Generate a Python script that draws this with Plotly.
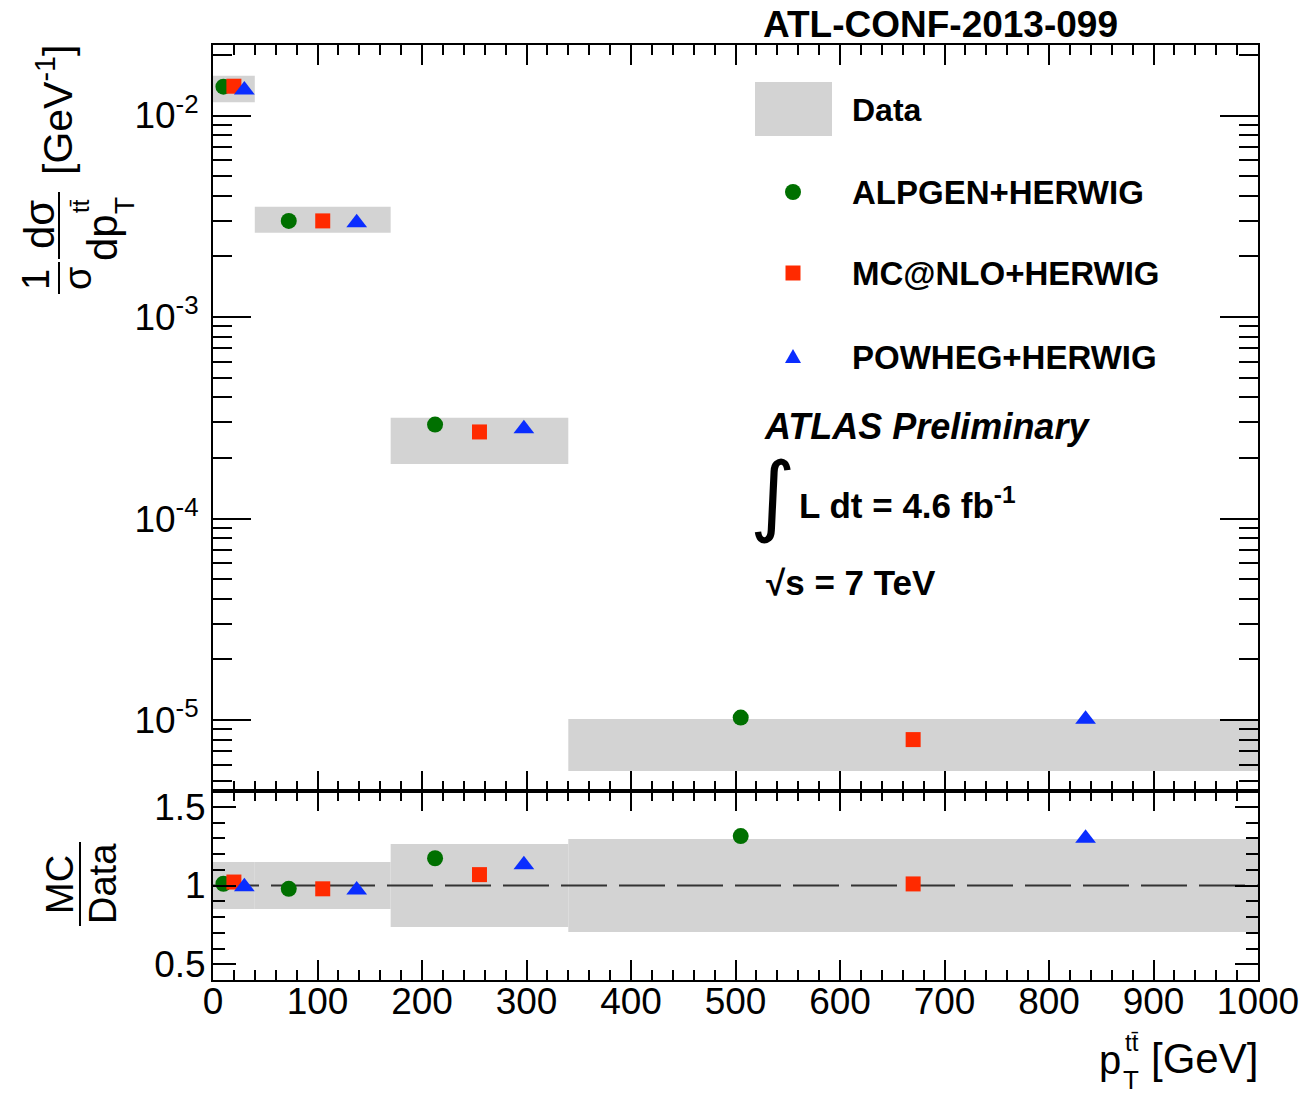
import plotly.graph_objects as go

# ---------------- data ----------------
bin_edges = [0, 40, 170, 340, 1000]
data_lo = [1.163e-2, 2.62e-3, 1.865e-4, 5.58e-6]
data_hi = [1.575e-2, 3.527e-3, 3.164e-4, 1.012e-5]
ratio_lo = [0.851, 0.851, 0.737, 0.705]
ratio_hi = [1.149, 1.149, 1.263, 1.295]

x_alpgen = [10, 72.5, 212.5, 505]
x_mcnlo = [20, 105, 255, 670]
x_powheg = [30, 137.5, 297.5, 835]

alpgen = [1.39e-2, 3.0e-3, 2.927e-4, 1.029e-5]
mcnlo = [1.398e-2, 3.0e-3, 2.69e-4, 8.0e-6]
powheg = [1.338e-2, 2.94e-3, 2.79e-4, 1.01e-5]

alpgen_ratio = [1.011, 0.979, 1.173, 1.314]
mcnlo_ratio = [1.022, 0.979, 1.069, 1.01]
powheg_ratio = [0.992, 0.972, 1.131, 1.30]

series_names = ["ALPGEN+HERWIG", "MC@NLO+HERWIG", "POWHEG+HERWIG"]
y_ticks_main = [1e-5, 1e-4, 1e-3, 1e-2]
y_ticktext_main = ["10<sup>-5</sup>", "10<sup>-4</sup>", "10<sup>-3</sup>", "10<sup>-2</sup>"]
y_ticks_ratio = [0.5, 1, 1.5]
y_ticktext_ratio = ["0.5", "1", "1.5"]

# ---------------- style ----------------
GREEN = "#007000"
RED = "#ff2a00"
BLUE = "#0a2dff"
GRAY = "#d3d3d3"
FONT = "Liberation Sans, Arial, Helvetica, sans-serif"

W, H = 1313, 1094
L, R, T, B = 213, 55, 45, 114
PW, PH = W - L - R, H - T - B
SPLIT = (980 - 791) / PH


def px(x):
    return (x - L) / PW


def py(y):
    return (H - B - y) / PH


fig = go.Figure()

# data bands
for i in range(len(bin_edges) - 1):
    lo, hi = bin_edges[i], bin_edges[i + 1]
    fig.add_trace(go.Scatter(
        x=[lo, hi, hi, lo, lo], y=[data_lo[i], data_lo[i], data_hi[i], data_hi[i], data_lo[i]],
        fill="toself", fillcolor=GRAY, mode="lines", line=dict(width=0),
        showlegend=False, hoverinfo="skip", xaxis="x", yaxis="y"))
    fig.add_trace(go.Scatter(
        x=[lo, hi, hi, lo, lo], y=[ratio_lo[i], ratio_lo[i], ratio_hi[i], ratio_hi[i], ratio_lo[i]],
        fill="toself", fillcolor=GRAY, mode="lines", line=dict(width=0),
        showlegend=False, hoverinfo="skip", xaxis="x2", yaxis="y2"))

# reference line at 1
fig.add_trace(go.Scatter(x=[bin_edges[0], bin_edges[-1]], y=[1, 1], mode="lines",
                         line=dict(color="#333333", width=2, dash="46px,12px"),
                         showlegend=False, hoverinfo="skip", xaxis="x2", yaxis="y2"))

specs = [
    (x_alpgen, alpgen, alpgen_ratio, "circle", GREEN, 16),
    (x_mcnlo, mcnlo, mcnlo_ratio, "square", RED, 15),
    (x_powheg, powheg, powheg_ratio, "triangle-up", BLUE, 18),
]
for (xs, ys, rs, sym, col, sz), name in zip(specs, series_names):
    fig.add_trace(go.Scatter(x=xs, y=ys, mode="markers", name=name,
                             marker=dict(symbol=sym, color=col, size=sz, line=dict(width=0)),
                             showlegend=False, xaxis="x", yaxis="y"))
    fig.add_trace(go.Scatter(x=xs, y=rs, mode="markers", name=name,
                             marker=dict(symbol=sym, color=col, size=sz, line=dict(width=0)),
                             showlegend=False, xaxis="x2", yaxis="y2"))

axis_common = dict(showline=True, linecolor="black", linewidth=2, ticks="inside",
                   mirror="allticks", tickcolor="black", tickwidth=2, showgrid=False,
                   zeroline=False)

minor_log = [k * 10 ** e for e in range(-6, -1) for k in range(2, 10)]

fig.update_layout(
    width=W, height=H, margin=dict(l=L, r=R, t=T, b=B),
    paper_bgcolor="white", plot_bgcolor="white",
    font=dict(family=FONT, color="black", size=37),
    showlegend=False,
    xaxis=dict(domain=[0, 1], anchor="y", range=[0, 1000], tick0=0, dtick=100, ticklen=20,
               minor=dict(ticks="inside", dtick=20, ticklen=10, tickwidth=2, tickcolor="black"),
               showticklabels=False, matches="x2", **axis_common),
    yaxis=dict(domain=[SPLIT, 1], anchor="x", type="log", range=[-5.352, -1.65],
               tickmode="array", tickvals=y_ticks_main, ticktext=y_ticktext_main, ticklen=38,
               ticklabelstandoff=5,
               minor=dict(ticks="inside", tickmode="array", tickvals=minor_log, ticklen=19,
                          tickwidth=2, tickcolor="black"),
               tickfont=dict(size=37), **axis_common),
    xaxis2=dict(domain=[0, 1], anchor="y2", range=[0, 1000], tick0=0, dtick=100, ticklen=20,
                minor=dict(ticks="inside", dtick=20, ticklen=10, tickwidth=2, tickcolor="black"),
                tickfont=dict(size=37), ticklabelstandoff=-12, **axis_common),
    yaxis2=dict(domain=[0, SPLIT], anchor="x2", range=[0.4, 1.6],
                tickmode="array", tickvals=y_ticks_ratio, ticktext=y_ticktext_ratio, ticklen=23,
                ticklabelstandoff=-2,
                minor=dict(ticks="inside", dtick=0.1, tick0=0, ticklen=12, tickwidth=2,
                           tickcolor="black"),
                tickfont=dict(size=37), **axis_common),
)

ann = []
shapes = []


def text(x, y, s, size=32, xanchor="left", angle=0, bold=True, fam=FONT):
    ann.append(dict(x=px(x), y=py(y), xref="paper", yref="paper", text=s, showarrow=False,
                    xanchor=xanchor, yanchor="middle", textangle=angle,
                    font=dict(size=size, family=fam, color="black",
                              weight="bold" if bold else "normal")))


# header and labels
text(940, 24, "ATL-CONF-2013-099", size=37, xanchor="center")
text(762, 426, "<i>ATLAS Preliminary</i>", size=36)
text(773, 494, "∫", size=88, xanchor="center", bold=False, fam="DejaVu Sans, sans-serif")
text(797, 503, "L dt = 4.6 fb<sup>-1</sup>", size=35)
text(764, 582, "√s = 7 TeV", size=35)

# legend
shapes.append(dict(type="rect", xref="paper", yref="paper", x0=px(755), x1=px(832),
                   y0=py(136), y1=py(82), fillcolor=GRAY, line=dict(width=0)))
text(850, 110, "Data", size=32)
leg_y = [192, 273, 357]
shapes.append(dict(type="circle", xref="paper", yref="paper", xsizemode="pixel", ysizemode="pixel",
                   xanchor=px(793), yanchor=py(leg_y[0]), x0=-8, x1=8, y0=-8, y1=8,
                   fillcolor=GREEN, line=dict(width=0)))
shapes.append(dict(type="rect", xref="paper", yref="paper", xsizemode="pixel", ysizemode="pixel",
                   xanchor=px(793), yanchor=py(leg_y[1]), x0=-7.5, x1=7.5, y0=-7.5, y1=7.5,
                   fillcolor=RED, line=dict(width=0)))
shapes.append(dict(type="path", xref="paper", yref="paper", xsizemode="pixel", ysizemode="pixel",
                   xanchor=px(793), yanchor=py(leg_y[2]), path="M -8,-6 L 8,-6 L 0,8 Z",
                   fillcolor=BLUE, line=dict(width=0)))
for yy, nm in zip(leg_y, series_names):
    text(850, yy, nm, size=33)

# y-axis title (main)
text(36, 280, "1", size=38, xanchor="center", angle=-90, bold=False)
text(78, 279, "σ", size=38, xanchor="center", angle=-90, bold=False)
text(39, 225, "dσ", size=42, xanchor="center", angle=-90, bold=False)
text(102, 238, "dp", size=42, xanchor="center", angle=-90, bold=False)
text(124, 206, "T", size=28, xanchor="center", angle=-90, bold=False)
text(80, 206, "tt̄", size=24, xanchor="center", angle=-90, bold=False)
text(55, 110, "[GeV<sup>-1</sup>]", size=41, xanchor="center", angle=-90, bold=False)
for y0, y1 in [(262, 294), (192, 259)]:
    shapes.append(dict(type="line", xref="paper", yref="paper", x0=px(59), x1=px(59),
                       y0=py(y0), y1=py(y1), line=dict(color="black", width=2)))

# y-axis title (ratio)
text(60, 885, "MC", size=38, xanchor="center", angle=-90, bold=False)
text(103, 884, "Data", size=38, xanchor="center", angle=-90, bold=False)
shapes.append(dict(type="line", xref="paper", yref="paper", x0=px(80), x1=px(80),
                   y0=py(842), y1=py(926), line=dict(color="black", width=2)))

# x-axis title
text(1260, 1058, "[GeV]", size=42, xanchor="right", bold=False)
text(1110, 1060, "p", size=40, xanchor="center", bold=False)
text(1131, 1080, "T", size=26, xanchor="center", bold=False)
text(1132, 1042, "tt̄", size=24, xanchor="center", bold=False)

fig.update_layout(annotations=ann, shapes=shapes)
fig.write_html("out.html")
